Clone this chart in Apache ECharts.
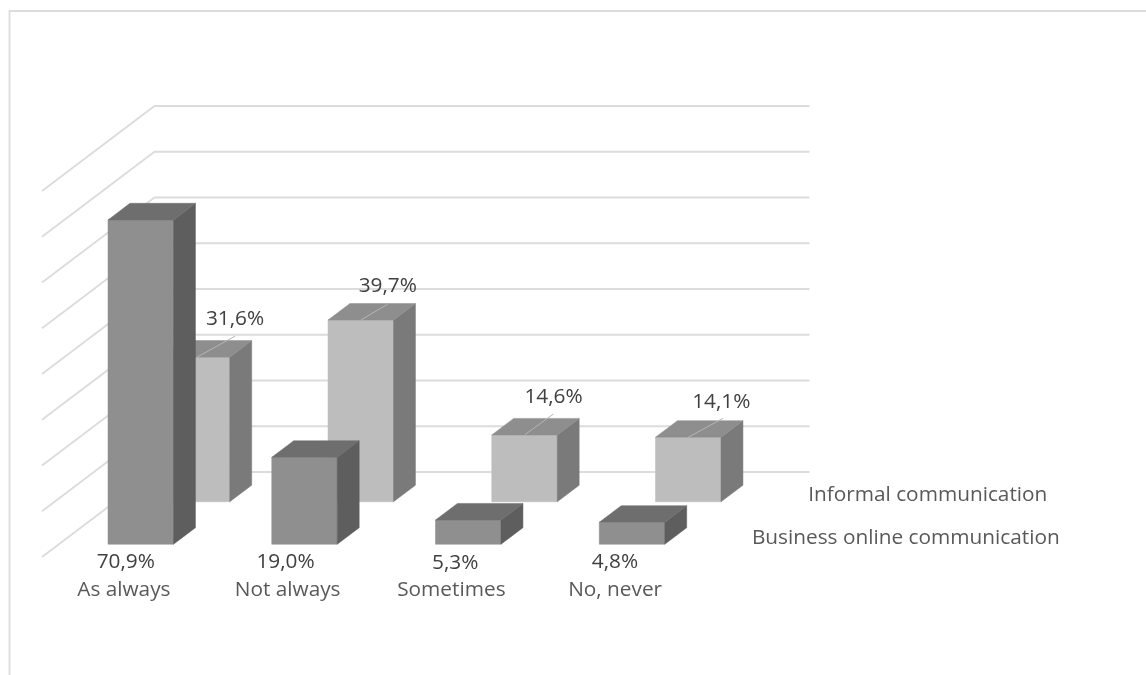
<!DOCTYPE html>
<html>
<head>
<meta charset="utf-8">
<style>html,body{margin:0;padding:0;background:#fff}#c{width:1146px;height:675px}</style>
<script src="https://cdn.jsdelivr.net/npm/echarts@6/dist/echarts.min.js"></script>
</head>
<body>
<div id="c"></div>
<script>
const categories = ['As always', 'Not always', 'Sometimes', 'No, never'];
const businessValues = [70.9, 19.0, 5.3, 4.8];
const informalValues = [31.6, 39.7, 14.6, 14.1];
const businessName = 'Business online communication';
const informalName = 'Informal communication';
const gridTicks = [0, 10, 20, 30, 40, 50, 60, 70, 80];

// Oblique projection: a depth of 1 moves a point this many pixels
const DEPTH_X = 112.5, DEPTH_Y = -85;
const BAR_DEPTH = 0.195, BAR_WIDTH = 65.5;
const BUSINESS_Z = 0.15, INFORMAL_Z = 0.65;
const FONT = '"Open Sans", sans-serif';
const FONT_SIZE = 20.8;

// Label placement relative to the bar's front top (informal) or front base (business)
const informalLabelOffsets = [[38, -38], [27, -34], [29, -38], [33, -35]];
const informalLeaderEnds = [[38, -21], [27, -16], [29, -21], [35, -19]];
const businessLabelOffsets = [[-15, 17.5], [-19, 17.5], [-13, 18.5], [-17, 17.5]];

const faceColors = {
  business: { front: '#8f8f8f', side: '#5e5e5e', top: '#6e6e6e' },
  informal: { front: '#bdbdbd', side: '#7a7a7a', top: '#8e8e8e' }
};

function fmt(v) { return v.toFixed(1).replace('.', ',') + '%'; }

function project(api, cat, val, z, shift) {
  const p = api.coord([cat, val]);
  return [p[0] + (shift || 0) + z * DEPTH_X, p[1] + z * DEPTH_Y];
}

function poly(points, fill) {
  return { type: 'polygon', shape: { points }, style: { fill, stroke: fill, lineWidth: 0.5 } };
}

function barRenderer(z0, colors, withLabel) {
  return function (params, api) {
    const i = api.value(0), v = api.value(1);
    const hw = BAR_WIDTH / 2, z1 = z0 + BAR_DEPTH;
    const fbl = project(api, i, 0, z0, -hw), fbr = project(api, i, 0, z0, hw);
    const ftl = project(api, i, v, z0, -hw), ftr = project(api, i, v, z0, hw);
    const btl = project(api, i, v, z1, -hw), btr = project(api, i, v, z1, hw);
    const bbr = project(api, i, 0, z1, hw);
    const children = [
      poly([fbl, fbr, ftr, ftl], colors.front),
      poly([fbr, bbr, btr, ftr], colors.side),
      poly([ftl, ftr, btr, btl], colors.top)
    ];
    const mid = project(api, i, v, z0, 0);
    const base = project(api, i, 0, z0, 0);
    if (withLabel === 'top') {
      const o = informalLabelOffsets[i], e = informalLeaderEnds[i];
      children.push({ type: 'line', shape: { x1: mid[0], y1: mid[1], x2: mid[0] + e[0], y2: mid[1] + e[1] },
        style: { stroke: '#b5b5b5', lineWidth: 1 } });
      children.push({ type: 'text', style: { x: mid[0] + o[0], y: mid[1] + o[1], text: fmt(v), fill: '#404040',
        font: FONT_SIZE + 'px ' + FONT, textAlign: 'center', textVerticalAlign: 'middle' } });
    } else {
      const o = businessLabelOffsets[i];
      children.push({ type: 'text', style: { x: base[0] + o[0], y: base[1] + o[1], text: fmt(v), fill: '#404040',
        font: FONT_SIZE + 'px ' + FONT, textAlign: 'center', textVerticalAlign: 'middle' } });
    }
    return { type: 'group', children };
  };
}

function wallRenderer(params, api) {
  const v = api.value(0);
  const half = api.size([1, 0])[0] / 2;
  const last = categories.length - 1;
  const a = project(api, 0, v, 0, -half);
  const b = project(api, 0, v, 1, -half);
  const c = project(api, last, v, 1, half);
  return { type: 'polyline', shape: { points: [a, b, c] }, style: { fill: 'none', stroke: '#dcdcdc', lineWidth: 1.8 } };
}

function depthLabelRenderer(params, api) {
  const half = api.size([1, 0])[0] / 2;
  const last = categories.length - 1;
  const isInformal = params.dataIndex === 0;
  const z = isInformal ? INFORMAL_Z : BUSINESS_Z;
  const p = project(api, last, 0, z, half);
  return { type: 'text', style: { x: p[0] + 38, y: p[1] - 6.5, text: isInformal ? informalName : businessName,
    fill: '#595959', font: FONT_SIZE + 'px ' + FONT, textAlign: 'left', textVerticalAlign: 'middle' } };
}

const chart = echarts.init(document.getElementById('c'), null, { renderer: 'canvas' });
chart.setOption({
  animation: false,
  backgroundColor: '#ffffff',
  grid: { left: 42, top: 191, width: 655, height: 366 },
  xAxis: {
    type: 'category', data: categories,
    axisLine: { show: false }, axisTick: { show: false }, splitLine: { show: false },
    axisLabel: { margin: 23, color: '#595959', fontFamily: '"Open Sans", sans-serif', fontSize: FONT_SIZE }
  },
  yAxis: { type: 'value', min: 0, max: 80, interval: 10, show: false },
  graphic: [{
    type: 'polyline', silent: true,
    shape: { points: [[9.5, 675], [9.5, 11], [1146, 11]] },
    style: { fill: 'none', stroke: '#dcdcdc', lineWidth: 1.8 }
  }],
  series: [
    { type: 'custom', name: 'walls', silent: true, renderItem: wallRenderer, data: gridTicks.map(t => [t]), encode: { y: 0 } },
    { type: 'custom', name: informalName, silent: true, renderItem: barRenderer(INFORMAL_Z, faceColors.informal, 'top'),
      data: informalValues.map((v, i) => [i, v]), encode: { x: 0, y: 1 } },
    { type: 'custom', name: businessName, silent: true, renderItem: barRenderer(BUSINESS_Z, faceColors.business, 'base'),
      data: businessValues.map((v, i) => [i, v]), encode: { x: 0, y: 1 } },
    { type: 'custom', name: 'depth axis', silent: true, renderItem: depthLabelRenderer, data: [[0, 0], [0, 0]], encode: { x: 0, y: 1 } }
  ]
});
</script>
</body>
</html>
